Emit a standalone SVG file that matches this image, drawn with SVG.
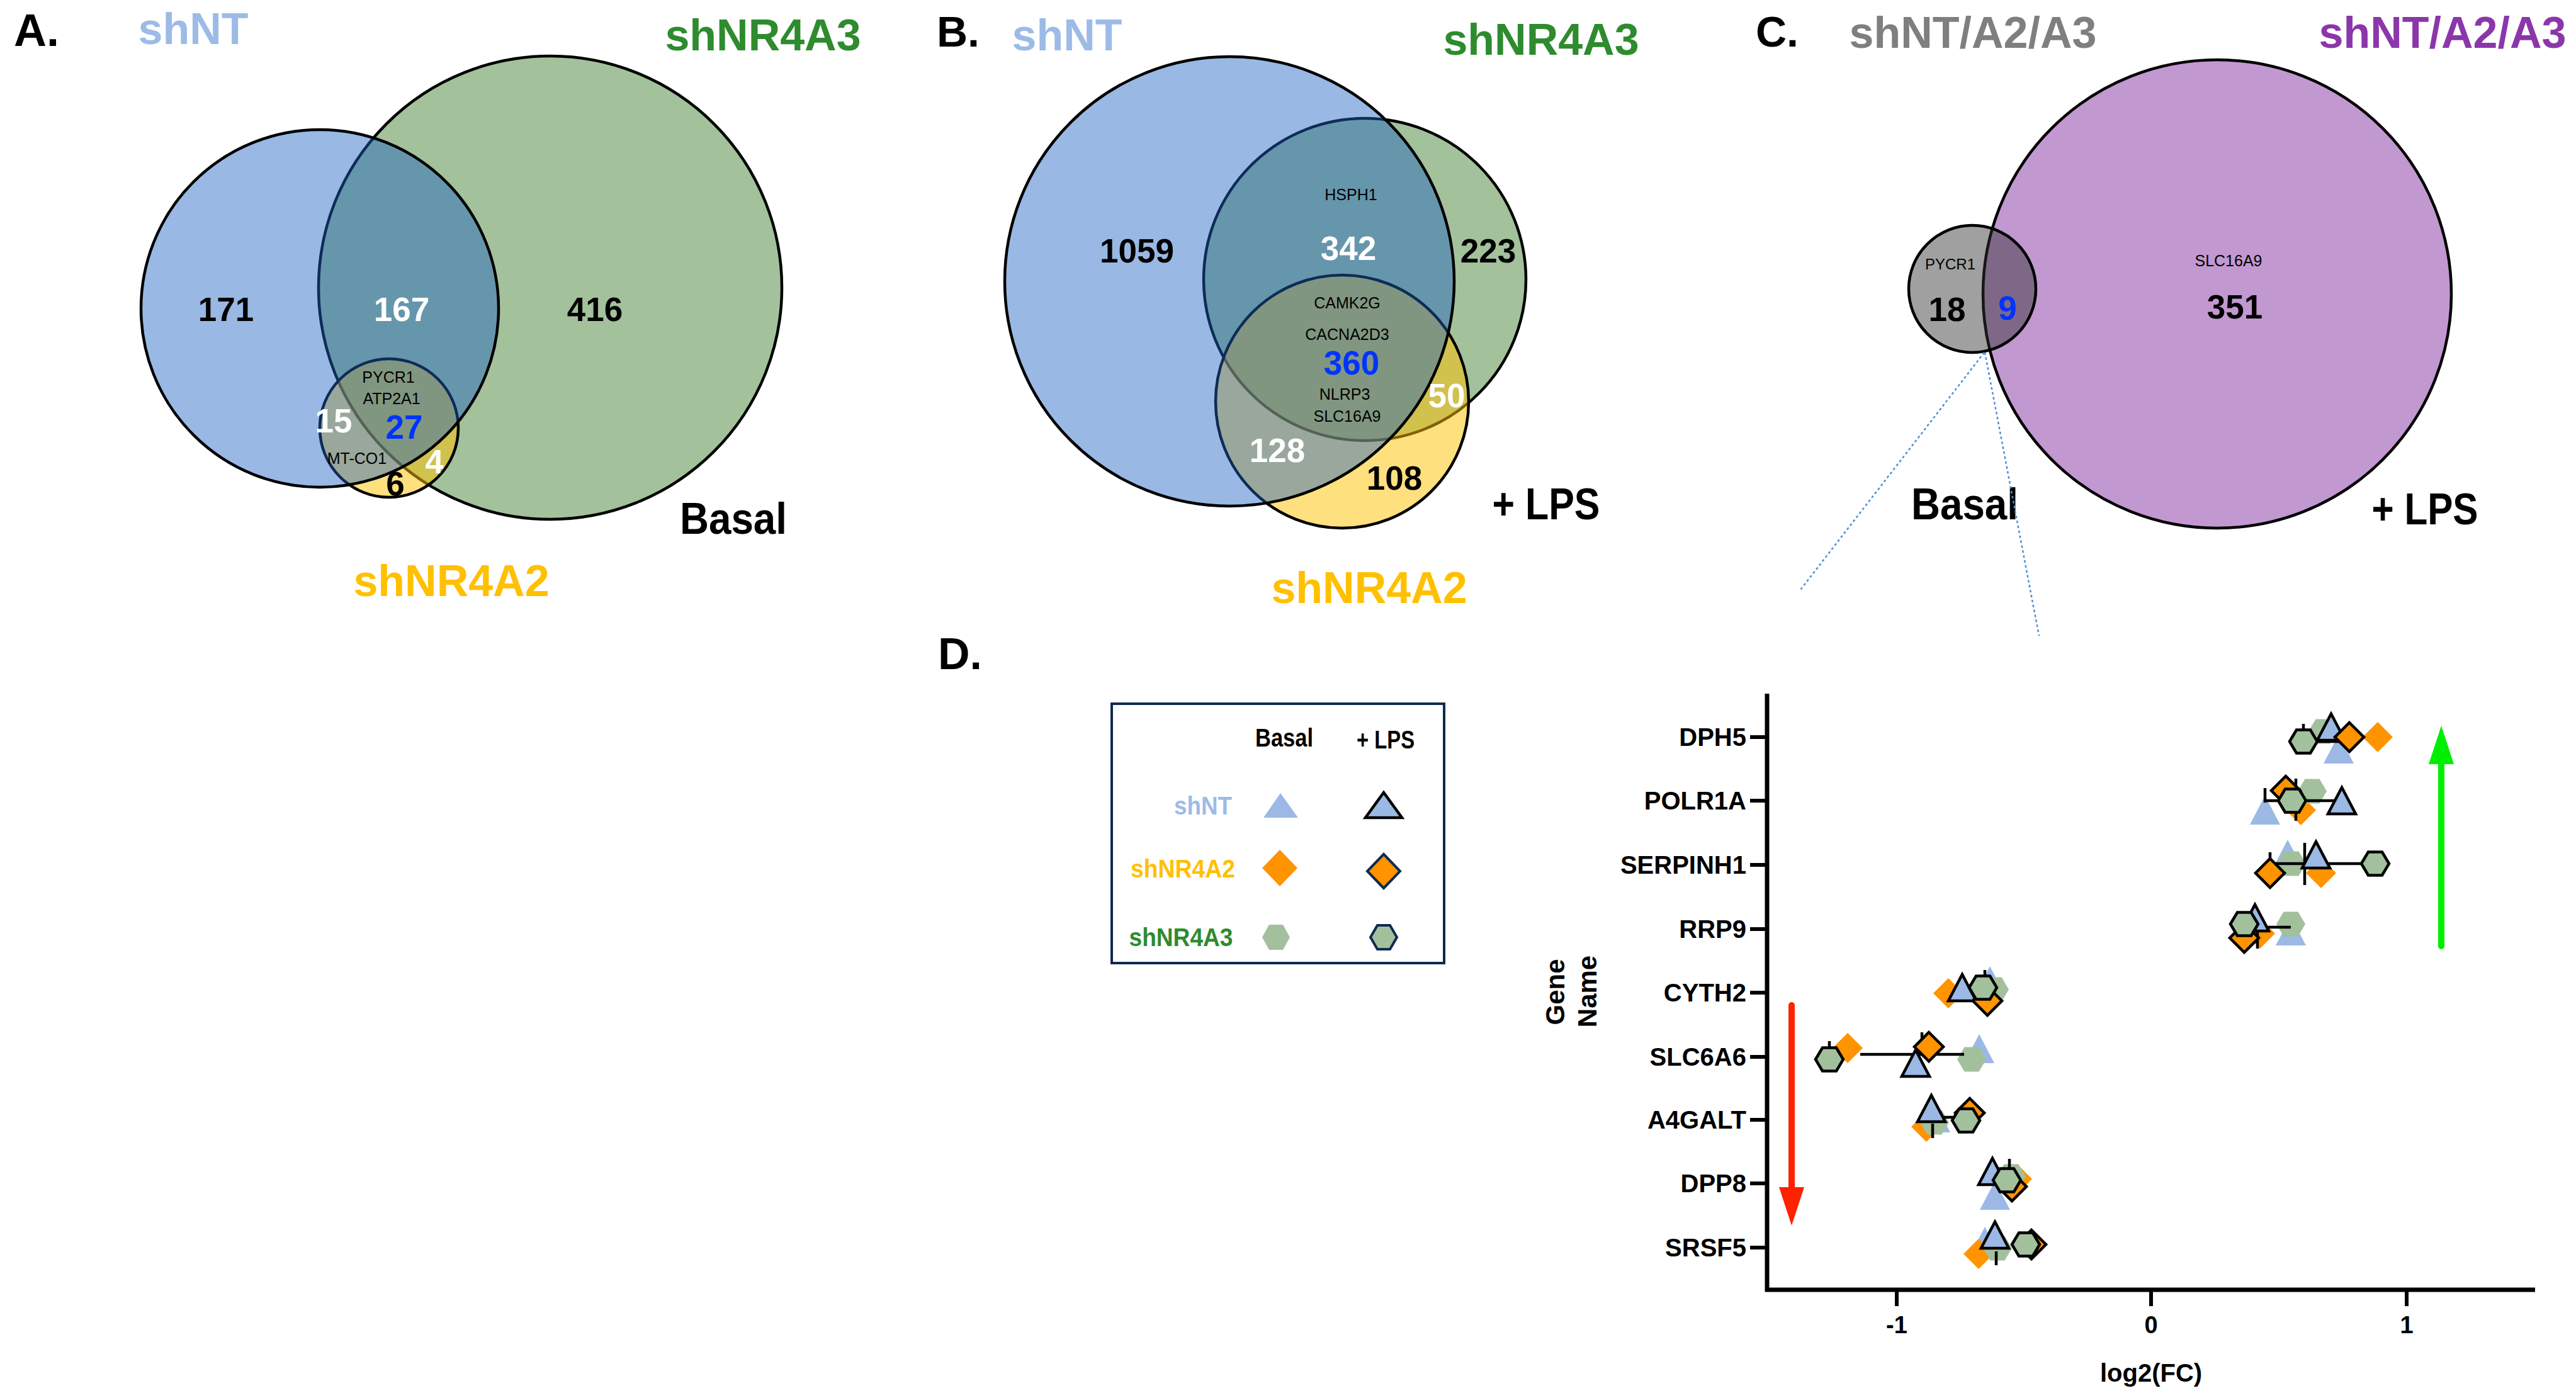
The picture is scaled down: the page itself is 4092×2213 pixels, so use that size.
<svg xmlns="http://www.w3.org/2000/svg" width="4092" height="2213" viewBox="0 0 4092 2213">
<style>
text{font-family:"Liberation Sans",Arial,sans-serif;font-weight:bold}
.mid{text-anchor:middle}
.big{font-size:70px}
.num{font-size:53px;text-anchor:middle}
.gn{font-size:25px;font-weight:normal;text-anchor:middle;fill:#000}
.w{fill:#fff}
.bl{fill:#0033ff}
.cNT{fill:#9dbbe6}
.cA2{fill:#ffc000}
.cA3{fill:#2e8b2e}
.ring{stroke:#000;stroke-width:4.5}
.fG{fill:#478337;fill-opacity:0.5}
.fY{fill:#ffc100;fill-opacity:0.5}
.fB{fill:#1c61c1;fill-opacity:0.45}
.fP{fill:#8531a3;fill-opacity:0.5}
.fK{fill:#303030;fill-opacity:0.46}
.tb{fill:#9cb9e5}
.do{fill:#ff9300}
.hg{fill:#a2c09c}
.lps{stroke:#000;stroke-width:4.5}
.leg{stroke:#0f2a4f;stroke-width:4}
.ax{stroke:#000;stroke-width:7;fill:none}
.er{stroke:#000;stroke-width:4.5;fill:none}
.gl{font-size:40px;text-anchor:end}
.tk{font-size:38px;text-anchor:middle}
</style>
<defs>
<path id="triB" d="M0,-23 L24,23 L-24,23 Z"/>
<path id="triL" d="M0,-21 L22,21 L-22,21 Z"/>
<path id="diaB" d="M0,-24 L24,0 L0,24 L-24,0 Z"/>
<path id="diaL" d="M0,-23 L23,0 L0,23 L-23,0 Z"/>
<path id="hexB" d="M-23,0 L-11.5,-19.5 L11.5,-19.5 L23,0 L11.5,19.5 L-11.5,19.5 Z"/>
<path id="hexL" d="M-22,0 L-11,-18.5 L11,-18.5 L22,0 L11,18.5 L-11,18.5 Z"/>
</defs>
<rect width="4092" height="2213" fill="#fff"/>

<!-- Panel A -->
<g id="panel-a">
<text x="22" y="73" class="big" style="font-size:72px">A.</text>
<text x="307" y="70" class="big mid cNT">shNT</text>
<text x="1212" y="80" class="big mid cA3">shNR4A3</text>
<g id="a-venn">
<circle id="a-shNR4A3" cx="874" cy="457" r="368" class="fG ring"/>
<circle id="a-shNR4A2" cx="618" cy="680" r="110" class="fY ring"/>
<circle id="a-shNT" cx="508" cy="490" r="284" class="fB ring"/>
</g>
<text x="359" y="510" class="num">171</text>
<text x="638" y="510" class="num w">167</text>
<text x="945" y="510" class="num">416</text>
<text x="617" y="608" class="gn">PYCR1</text>
<text x="622" y="642" class="gn">ATP2A1</text>
<text x="530" y="687" class="num w">15</text>
<text x="642" y="697" class="num bl">27</text>
<text x="567" y="737" class="gn">MT-CO1</text>
<text x="690" y="752" class="num w">4</text>
<text x="628" y="787" class="num">6</text>
<text x="1165" y="848" class="big mid" textLength="170" lengthAdjust="spacingAndGlyphs">Basal</text>
<text x="717" y="947" class="big mid cA2">shNR4A2</text>
</g>

<!-- Panel B -->
<g id="panel-b">
<text x="1488" y="74" class="big" style="font-size:68px">B.</text>
<text x="1695" y="80" class="big mid cNT">shNT</text>
<text x="2448" y="87" class="big mid cA3">shNR4A3</text>
<g id="b-venn">
<circle id="b-shNR4A3" cx="2168" cy="444" r="256" class="fG ring"/>
<circle id="b-shNR4A2" cx="2132" cy="638" r="201" class="fY ring"/>
<circle id="b-shNT" cx="1953" cy="447" r="357" class="fB ring"/>
</g>
<text x="2146" y="318" class="gn">HSPH1</text>
<text x="1806" y="417" class="num">1059</text>
<text x="2142" y="413" class="num w">342</text>
<text x="2364" y="417" class="num">223</text>
<text x="2140" y="490" class="gn">CAMK2G</text>
<text x="2140" y="540" class="gn">CACNA2D3</text>
<text x="2147" y="595" class="num bl">360</text>
<text x="2136" y="635" class="gn">NLRP3</text>
<text x="2140" y="670" class="gn">SLC16A9</text>
<text x="2298" y="647" class="num w">50</text>
<text x="2029" y="734" class="num w">128</text>
<text x="2215" y="778" class="num">108</text>
<text x="2456" y="825" class="big mid" textLength="171" lengthAdjust="spacingAndGlyphs">+ LPS</text>
<text x="2175" y="958" class="big mid cA2">shNR4A2</text>
</g>

<!-- Panel C -->
<g id="panel-c">
<text x="2789" y="74" class="big" style="font-size:68px">C.</text>
<text x="3134" y="76" class="big mid" fill="#7f7f7f">shNT/A2/A3</text>
<text x="3880" y="76" class="big mid" fill="#8b36ab">shNT/A2/A3</text>
<g id="c-venn">
<circle id="c-lps" cx="3522" cy="467" r="372" class="fP ring"/>
<circle id="c-basal" cx="3133" cy="459" r="101" class="fK ring"/>
</g>
<text x="3098" y="428" class="gn" style="font-size:24px">PYCR1</text>
<text x="3093" y="510" class="num">18</text>
<text x="3189" y="508" class="num bl">9</text>
<text x="3540" y="423" class="gn">SLC16A9</text>
<text x="3550" y="506" class="num">351</text>
<text x="3121" y="825" class="big mid" textLength="170" lengthAdjust="spacingAndGlyphs">Basal</text>
<text x="3852" y="833" class="big mid" textLength="169" lengthAdjust="spacingAndGlyphs">+ LPS</text>
</g>

<!-- Connectors -->
<g id="connectors" stroke="#4a8fd8" stroke-width="2.5" stroke-dasharray="4 4" fill="none">
<line x1="3152" y1="560" x2="2860" y2="937"/>
<line x1="3153" y1="560" x2="3239" y2="1010"/>
</g>

<!-- Panel D -->
<g id="panel-d">
<text x="1490" y="1063" class="big" style="font-size:70px">D.</text>
<g id="legend">
<rect x="1766" y="1118" width="528" height="412" fill="#fff" class="leg"/>
<text x="2040" y="1186" class="mid" style="font-size:40px" textLength="92" lengthAdjust="spacingAndGlyphs">Basal</text>
<text x="2201" y="1189" class="mid" style="font-size:40px" textLength="92" lengthAdjust="spacingAndGlyphs">+ LPS</text>
<text x="1911" y="1294" class="mid cNT" style="font-size:40px" textLength="92" lengthAdjust="spacingAndGlyphs">shNT</text>
<text x="1879" y="1394" class="mid cA2" style="font-size:40px" textLength="166" lengthAdjust="spacingAndGlyphs">shNR4A2</text>
<text x="1876" y="1503" class="mid cA3" style="font-size:40px" textLength="165" lengthAdjust="spacingAndGlyphs">shNR4A3</text>
<polygon points="2034,1260 2062,1299 2007,1299" class="tb"/>
<polygon points="2198,1259 2227,1299 2169,1299" class="tb lps"/>
<polygon points="2033,1350 2061,1379 2033,1408 2005,1379" class="do"/>
<polygon points="2198,1357 2224,1384 2198,1411 2172,1384" class="do leg"/>
<polygon points="2005,1489 2016,1469 2038,1469 2049,1489 2038,1509 2016,1509" class="hg"/>
<polygon points="2177,1489 2188,1470 2208,1470 2219,1489 2208,1508 2188,1508" class="hg leg"/>
</g>

<g id="axes">
<line x1="2807" y1="1102" x2="2807" y2="2052" class="ax"/>
<line x1="2804" y1="2049" x2="4027" y2="2049" class="ax"/>
<g stroke="#000" stroke-width="6">
<line x1="2780" y1="1171" x2="2807" y2="1171"/>
<line x1="2780" y1="1272" x2="2807" y2="1272"/>
<line x1="2780" y1="1374" x2="2807" y2="1374"/>
<line x1="2780" y1="1476" x2="2807" y2="1476"/>
<line x1="2780" y1="1577" x2="2807" y2="1577"/>
<line x1="2780" y1="1679" x2="2807" y2="1679"/>
<line x1="2780" y1="1779" x2="2807" y2="1779"/>
<line x1="2780" y1="1880" x2="2807" y2="1880"/>
<line x1="2780" y1="1982" x2="2807" y2="1982"/>
<line x1="3013" y1="2049" x2="3013" y2="2075"/>
<line x1="3417" y1="2049" x2="3417" y2="2075"/>
<line x1="3823" y1="2049" x2="3823" y2="2075"/>
</g>
<text x="2774" y="1185" class="gl">DPH5</text>
<text x="2774" y="1286" class="gl">POLR1A</text>
<text x="2774" y="1388" class="gl">SERPINH1</text>
<text x="2774" y="1490" class="gl">RRP9</text>
<text x="2774" y="1591" class="gl">CYTH2</text>
<text x="2774" y="1693" class="gl">SLC6A6</text>
<text x="2774" y="1793" class="gl">A4GALT</text>
<text x="2774" y="1894" class="gl">DPP8</text>
<text x="2774" y="1996" class="gl">SRSF5</text>
<text x="3013" y="2118" class="tk">-1</text>
<text x="3417" y="2118" class="tk">0</text>
<text x="3823" y="2118" class="tk">1</text>
<text x="3417" y="2195" class="mid" style="font-size:40px">log2(FC)</text>
<text transform="translate(2485,1576) rotate(-90)" class="mid" style="font-size:42px">Gene</text>
<text transform="translate(2536,1575) rotate(-90)" class="mid" style="font-size:42px">Name</text>
</g>

<g id="arrows">
<line x1="2846" y1="1597" x2="2846" y2="1890" stroke="#ff2200" stroke-width="10" stroke-linecap="round"/>
<polygon points="2826,1886 2866,1886 2846,1947" fill="#ff2200"/>
<line x1="3878" y1="1503" x2="3878" y2="1210" stroke="#00ee00" stroke-width="10" stroke-linecap="round"/>
<polygon points="3858,1214 3898,1214 3878,1153" fill="#00ee00"/>
</g>

<g id="basal-markers">
<g class="tb">
<use href="#triB" x="3715" y="1190"/>
<use href="#triB" x="3598" y="1287"/>
<use href="#triB" x="3634" y="1357"/>
<use href="#triB" x="3639" y="1479"/>
<use href="#triB" x="3161" y="1558"/>
<use href="#triB" x="3144" y="1666"/>
<use href="#triB" x="3074" y="1776"/>
<use href="#triB" x="3169" y="1899"/>
<use href="#triB" x="3153" y="1972"/>
</g>
<g class="do">
<use href="#diaB" x="3777" y="1171"/>
<use href="#diaB" x="3655" y="1287"/>
<use href="#diaB" x="3687" y="1387"/>
<use href="#diaB" x="3590" y="1483"/>
<use href="#diaB" x="3095" y="1578"/>
<use href="#diaB" x="2935" y="1665"/>
<use href="#diaB" x="3060" y="1790"/>
<use href="#diaB" x="3204" y="1873"/>
<use href="#diaB" x="3143" y="1992"/>
</g>
<g class="hg">
<use href="#hexB" x="3690" y="1162"/>
<use href="#hexB" x="3673" y="1257"/>
<use href="#hexB" x="3640" y="1372"/>
<use href="#hexB" x="3639" y="1468"/>
<use href="#hexB" x="3168" y="1572"/>
<use href="#hexB" x="3132" y="1683"/>
<use href="#hexB" x="3073" y="1783"/>
<use href="#hexB" x="3195" y="1869"/>
<use href="#hexB" x="3173" y="1983"/>
</g>
</g>

<g id="range-bars" class="er">
<line x1="3659" y1="1178" x2="3732" y2="1178"/>
<line x1="3659" y1="1150" x2="3659" y2="1195"/>
<line x1="3598" y1="1272" x2="3720" y2="1272"/>
<line x1="3598" y1="1252" x2="3598" y2="1275"/>
<line x1="3647" y1="1237" x2="3647" y2="1304"/>
<line x1="3606" y1="1372" x2="3773" y2="1372"/>
<line x1="3606" y1="1354" x2="3606" y2="1390"/>
<line x1="3661" y1="1339" x2="3661" y2="1406"/>
<line x1="3565" y1="1473" x2="3639" y2="1473"/>
<line x1="3586" y1="1470" x2="3586" y2="1507"/>
<line x1="3153" y1="1541" x2="3153" y2="1565"/>
<line x1="2955" y1="1675" x2="3120" y2="1675"/>
<line x1="2906" y1="1654" x2="2906" y2="1680"/>
<line x1="3053" y1="1640" x2="3053" y2="1665"/>
<line x1="3085" y1="1775" x2="3106" y2="1775"/>
<line x1="3070" y1="1785" x2="3070" y2="1808"/>
<line x1="3192" y1="1841" x2="3192" y2="1862"/>
<line x1="3171" y1="1988" x2="3171" y2="2010"/>
</g>

<g id="lps-markers">
<g class="tb lps">
<use href="#triL" x="3703" y="1155"/>
<use href="#triL" x="3720" y="1272"/>
<use href="#triL" x="3679" y="1358"/>
<use href="#triL" x="3582" y="1458"/>
<use href="#triL" x="3117" y="1569"/>
<use href="#triL" x="3043" y="1689"/>
<use href="#triL" x="3068" y="1761"/>
<use href="#triL" x="3165" y="1861"/>
<use href="#triL" x="3169" y="1962"/>
</g>
<g class="do lps">
<use href="#diaL" x="3732" y="1171"/>
<use href="#diaL" x="3631" y="1256"/>
<use href="#diaL" x="3606" y="1387"/>
<use href="#diaL" x="3565" y="1490"/>
<use href="#diaL" x="3157" y="1590"/>
<use href="#diaL" x="3064" y="1663"/>
<use href="#diaL" x="3129" y="1768"/>
<use href="#diaL" x="3196" y="1885"/>
<use href="#diaL" x="3227" y="1977"/>
</g>
<g class="hg lps">
<use href="#hexL" x="3659" y="1178"/>
<use href="#hexL" x="3641" y="1272"/>
<use href="#hexL" x="3773" y="1372"/>
<use href="#hexL" x="3565" y="1468"/>
<use href="#hexL" x="3150" y="1569"/>
<use href="#hexL" x="2906" y="1683"/>
<use href="#hexL" x="3123" y="1780"/>
<use href="#hexL" x="3188" y="1875"/>
<use href="#hexL" x="3218" y="1977"/>
</g>
</g>
</g>
</svg>
